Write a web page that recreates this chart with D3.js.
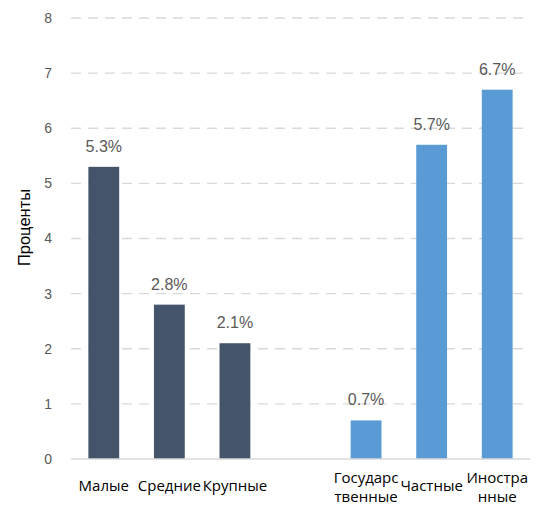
<!DOCTYPE html>
<html><head><meta charset="utf-8">
<script src="https://cdn.jsdelivr.net/npm/d3@7"></script>
<style>body{margin:0;background:#fff}</style>
</head><body>
<svg id="c" width="546" height="506"></svg>
<script>
const categories = ["Малые","Средние","Крупные","","Государс\nтвенные","Частные","Иностра\nнные"];
const values = [5.3, 2.8, 2.1, null, 0.7, 5.7, 6.7];
const groups = ["size","size","size","","own","own","own"];
const yTicks = [0,1,2,3,4,5,6,7,8];
const colors = {size:"#44546a", own:"#5b9bd5"};
const yTitle = "Проценты";

const svg = d3.select("#c");
const m = {left:71, right:16, top:18, bottom:47};
const W = 546, H = 506;
const x = d3.scaleBand().domain(d3.range(categories.length)).range([m.left, W-m.right]).paddingInner(0.53).paddingOuter(0.265);
const y = d3.scaleLinear().domain([0,8]).range([H-m.bottom, m.top]);
const fontA = "'Liberation Sans', Arial, sans-serif";
const fontB = "'Open Sans', 'Noto Sans', sans-serif";

// gridlines
svg.append("g").selectAll("line").data(yTicks.filter(d=>d>0)).join("line")
  .attr("x1", m.left).attr("x2", W-m.right)
  .attr("y1", d=>y(d)).attr("y2", d=>y(d))
  .attr("stroke","#d9d9d9").attr("stroke-width",1.3).attr("stroke-dasharray","10,7");

// y axis labels
const yAxis = d3.axisLeft(y).tickValues(yTicks).tickSize(0).tickPadding(19);
const ga = svg.append("g").attr("transform",`translate(${m.left},0)`).call(yAxis);
ga.select(".domain").remove();
ga.selectAll("text").attr("fill","#595959").style("font-family",fontA).style("font-size","14px");

// bars
const data = categories.map((c,i)=>({i, c, v:values[i], g:groups[i]})).filter(d=>d.v!=null);
svg.append("g").selectAll("rect").data(data).join("rect")
  .attr("x", d=>x(d.i)).attr("width", x.bandwidth())
  .attr("y", d=>y(d.v)).attr("height", d=>y(0)-y(d.v))
  .attr("fill", d=>colors[d.g]);

// baseline
svg.append("line").attr("x1",m.left).attr("x2",W-m.right).attr("y1",y(0)).attr("y2",y(0))
  .attr("stroke","#d9d9d9").attr("stroke-width",1.3);

// value labels
svg.append("g").selectAll("text").data(data).join("text")
  .attr("x", d=>x(d.i)+x.bandwidth()/2).attr("y", d=>y(d.v)-15)
  .attr("text-anchor","middle").attr("fill","#595959")
  .style("font-family",fontA).style("font-size","16px")
  .text(d=>d.v.toFixed(1)+"%");

// category labels
svg.append("g").selectAll("text").data(categories.map((c,i)=>({c,i})).filter(d=>d.c)).join("text")
  .attr("text-anchor","middle").attr("fill","#000")
  .style("font-family",fontB).style("font-size","15px")
  .each(function(d){
    const lines = d.c.split("\n");
    const t = d3.select(this);
    const cx = x(d.i)+x.bandwidth()/2;
    const y0 = lines.length===1 ? 491 : 483;
    lines.forEach((l,k)=>t.append("tspan").attr("x",cx).attr("y",y0+k*19).text(l));
  });

// y title
svg.append("text").attr("transform",`translate(30,227.5) rotate(-90)`)
  .attr("text-anchor","middle").attr("fill","#000")
  .style("font-family",fontA).style("font-size","16.5px").text(yTitle);
</script>
</body></html>
